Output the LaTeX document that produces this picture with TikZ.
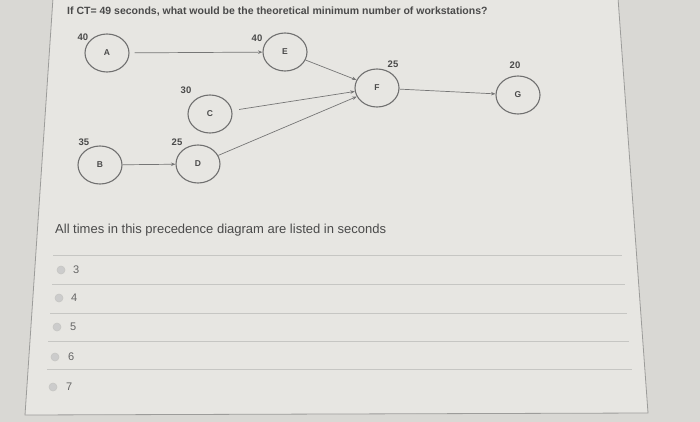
\documentclass[tikz,border=0pt]{standalone}
\usepackage{fontspec}
\setmainfont{Liberation Sans}
\usetikzlibrary{shapes.geometric,arrows.meta}
\definecolor{outbg}{HTML}{D9D8D4}
\definecolor{panelbg}{HTML}{E7E6E2}
\definecolor{edgegray}{HTML}{9C9C9A}
\definecolor{sepgray}{HTML}{C6C6C3}
\definecolor{ink}{HTML}{4A4A4A}
\definecolor{nodeline}{HTML}{707070}
\definecolor{arrowgray}{HTML}{767676}
\tikzset{
  task/.style={ellipse,draw=nodeline,line width=1.1pt,minimum width=44pt,minimum height=38pt,inner sep=0pt,font=\fontsize{8.5}{9}\selectfont\bfseries,text=ink},
  tlabel/.style={font=\fontsize{9.5}{10}\selectfont\bfseries,text=ink,inner sep=0pt},
  prec/.style={draw=arrowgray,line width=0.7pt,-{Stealth[length=4.5pt,width=3.5pt]}},
  radio/.style={circle,draw=sepgray,fill=gray!40,line width=0.6pt,minimum size=8pt,inner sep=0pt},
  optnum/.style={font=\fontsize{11}{12}\selectfont,text=ink!85,inner sep=0pt,anchor=west},
  sepline/.style={draw=sepgray,line width=0.8pt}
}
\begin{document}
\begin{tikzpicture}[x=1pt,y=-1pt]
\useasboundingbox (0,0) rectangle (700,422);
\fill[outbg] (0,0) rectangle (700,422);
\filldraw[fill=panelbg,draw=edgegray,line width=0.8pt] (53,-2) -- (618,-2) -- (648,413) -- (25,415) -- cycle;

% title
\node[anchor=west,inner sep=0pt,font=\fontsize{10.5}{12}\selectfont\bfseries,text=ink] (title) at (67,12)
  {If CT= 49 seconds, what would be the theoretical minimum number of workstations?};

% tasks
\node[task] (A) at (107,53) {A};
\node[task] (E) at (285,52) {E};
\node[task] (C) at (210,114) {C};
\node[task] (B) at (100,165) {B};
\node[task] (D) at (198,164) {D};
\node[task] (F) at (377,88) {F};
\node[task] (G) at (518,95) {G};

\node[tlabel] (tA) at (83,37) {40};
\node[tlabel] (tE) at (257,38) {40};
\node[tlabel] (tC) at (186,90) {30};
\node[tlabel] (tB) at (84,142) {35};
\node[tlabel] (tD) at (177,142) {25};
\node[tlabel] (tF) at (393,64) {25};
\node[tlabel] (tG) at (515,65) {20};

% precedence
\draw[prec,shorten <=5pt] (A) -- (E);
\draw[prec] (E) -- (F);
\draw[prec,shorten <=7pt] (C) -- (F);
\draw[prec] (D) -- (F);
\draw[prec] (B) -- (D);
\draw[prec] (F) -- (G);

% note
\node[anchor=west,inner sep=0pt,font=\fontsize{13}{14}\selectfont,text=ink] (note) at (55,230)
  {All times in this precedence diagram are listed in seconds};

% separators
\draw[sepline] (53,255) -- (622,255);
\draw[sepline] (52,284) -- (625,284);
\draw[sepline] (50,313) -- (627,313);
\draw[sepline] (48,341) -- (629,341);
\draw[sepline] (47,369) -- (632,369);

% options
\node[radio] (r3) at (61,270) {};
\node[radio] (r4) at (59,298) {};
\node[radio] (r5) at (57,327) {};
\node[radio] (r6) at (55,357) {};
\node[radio] (r7) at (53,387) {};
\node[optnum] (o3) at (73,270) {3};
\node[optnum] (o4) at (71,298) {4};
\node[optnum] (o5) at (70,327) {5};
\node[optnum] (o6) at (68,357) {6};
\node[optnum] (o7) at (66,387) {7};
\end{tikzpicture}
\end{document}
